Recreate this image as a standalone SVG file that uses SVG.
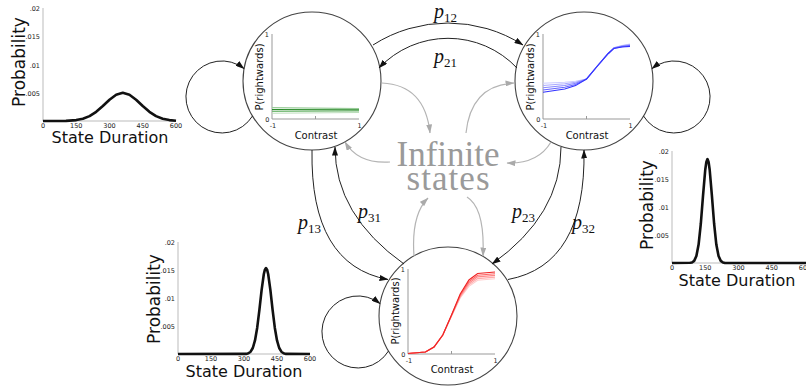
<svg xmlns="http://www.w3.org/2000/svg" width="806" height="389" viewBox="0 0 806 389">
<defs>
<marker id="ab" markerWidth="9" markerHeight="6" refX="8.5" refY="3" orient="auto" markerUnits="userSpaceOnUse"><path d="M0,0 L9,3 L0,6 z" fill="#111"/></marker>
<marker id="ag" markerWidth="9" markerHeight="6" refX="8.5" refY="3" orient="auto" markerUnits="userSpaceOnUse"><path d="M0,0 L9,3 L0,6 z" fill="#aaa"/></marker>
<style>
.edge{fill:none;stroke:#222;stroke-width:1}
.gedge{fill:none;stroke:#b4b4b4;stroke-width:1.2}
.node{fill:#fff;stroke:#444;stroke-width:1.1}
.ax{stroke:#999;stroke-width:1;fill:none}
.dax{stroke:#bbb;stroke-width:1;fill:none}
.tk{font-family:"DejaVu Sans",sans-serif;font-size:6.5px;fill:#222}
.lab{font-family:"DejaVu Sans",sans-serif;font-size:10px;fill:#111}
.big{font-family:"DejaVu Sans",sans-serif;fill:#111}
.pl{font-family:"Liberation Serif",serif;font-size:20px;fill:#111}
.pd{stroke:#111;stroke-width:2.6;fill:none;stroke-linejoin:round}
.cv{fill:none;stroke-width:1.1}
</style>
</defs>
<rect width="806" height="389" fill="#fff"/>

<!-- Node 1 -->
<g id="state1">
<circle class="node" cx="312" cy="81" r="69"/>
<line class="ax" x1="272" y1="34" x2="272" y2="119"/>
<line class="ax" x1="272" y1="119" x2="359" y2="119"/>
<line class="ax" x1="315.5" y1="119" x2="315.5" y2="116"/>
<polyline class="cv" stroke="#bdb" points="272,113.2 359,112.5"/>
<polyline class="cv" stroke="#9c9" points="272,107.6 359,108.6"/>
<polyline class="cv" stroke="#7b7" points="272,111.5 359,111"/>
<polyline class="cv" stroke="#2a8a2a" points="272,109.6 359,109.9"/>
<text class="tk" x="269" y="37" text-anchor="end">1</text>
<text class="tk" x="269.5" y="122" text-anchor="end">0</text>
<text class="tk" x="273" y="127.5" text-anchor="middle">-1</text>
<text class="tk" x="359.5" y="127.5" text-anchor="middle">1</text>
<text class="lab" transform="translate(262.5,77) rotate(-90)" text-anchor="middle">P(rightwards)</text>
<text class="lab" x="316" y="139" text-anchor="middle">Contrast</text>
</g>

<!-- Node 2 -->
<g id="state2">
<circle class="node" cx="584" cy="81" r="69"/>
<line class="ax" x1="543" y1="34" x2="543" y2="119"/>
<line class="ax" x1="543" y1="119" x2="630" y2="119"/>
<line class="ax" x1="586.5" y1="119" x2="586.5" y2="116"/>
<polyline class="cv" stroke="#ccf" points="543,83.3 564.75,82.3 575.6,81.2 586.5,79 597.4,66 608.25,53.5 614,47.8 622,45.5 630,44"/>
<polyline class="cv" stroke="#aaf" points="543,85.5 564.75,83.8 575.6,82.2 586.5,79 597.4,66 608.25,53.5 614,47.8 622,45.8 630,44.6"/>
<polyline class="cv" stroke="#88f" points="543,87.8 564.75,85.5 575.6,83.3 586.5,79 597.4,66 608.25,53.5 614,48 622,46.2 630,45.2"/>
<polyline class="cv" stroke="#66f" points="543,90 564.75,87.3 575.6,84.5 586.5,79 597.4,66 608.25,53.5 614,48.2 622,46.6 630,45.8"/>
<polyline class="cv" stroke="#33f" points="543,92.3 564.75,89 575.6,85.6 586.5,79 597.4,66 608.25,53.5 614,48.4 622,47 630,46.4"/>
<text class="tk" x="540" y="37" text-anchor="end">1</text>
<text class="tk" x="540.5" y="122" text-anchor="end">0</text>
<text class="tk" x="544" y="127.5" text-anchor="middle">-1</text>
<text class="tk" x="630.5" y="127.5" text-anchor="middle">1</text>
<text class="lab" transform="translate(533.5,77) rotate(-90)" text-anchor="middle">P(rightwards)</text>
<text class="lab" x="587" y="139" text-anchor="middle">Contrast</text>
</g>

<!-- Node 3 -->
<g id="state3">
<circle class="node" cx="448" cy="316" r="69"/>
<line class="ax" x1="408" y1="269" x2="408" y2="354"/>
<line class="ax" x1="408" y1="354" x2="495" y2="354"/>
<line class="ax" x1="451.5" y1="354" x2="451.5" y2="351"/>
<polyline class="cv" stroke="#fcc" points="408,353.5 425.4,352 434,347 442.8,335 451.5,316.2 460.2,298 468.9,286.4 477.6,280.3 495,278.8"/>
<polyline class="cv" stroke="#faa" points="408,353.5 425.4,352 434,347 442.8,335 451.5,315.9 460.2,297 468.9,284.8 477.6,278.6 495,277.1"/>
<polyline class="cv" stroke="#f88" points="408,353.5 425.4,352 434,347 442.8,335 451.5,315.6 460.2,296 468.9,283.2 477.6,276.9 495,275.4"/>
<polyline class="cv" stroke="#f66" points="408,353.5 425.4,352 434,347 442.8,335 451.5,315.3 460.2,295 468.9,281.6 477.6,275.2 495,273.7"/>
<polyline class="cv" stroke="#e22" points="408,353.5 425.4,352 434,347 442.8,335 451.5,315 460.2,294 468.9,280 477.6,273.5 495,272"/>
<text class="tk" x="405" y="272" text-anchor="end">1</text>
<text class="tk" x="405.5" y="357" text-anchor="end">0</text>
<text class="tk" x="409" y="362.5" text-anchor="middle">-1</text>
<text class="tk" x="495.5" y="362.5" text-anchor="middle">1</text>
<text class="lab" transform="translate(398.5,311) rotate(-90)" text-anchor="middle">P(rightwards)</text>
<text class="lab" x="452" y="373" text-anchor="middle">Contrast</text>
</g>

<!-- Center label -->
<g id="infinite" font-family="'Liberation Serif',serif" fill="#9a9a9a" font-size="35" text-anchor="middle">
<text x="448" y="166" textLength="103" lengthAdjust="spacing">Infinite</text>
<text x="448" y="190" textLength="83" lengthAdjust="spacing">states</text>
</g>

<!-- Connectors -->
<g id="connectors">
<path class="edge" d="M373,45 A139,139 0 0,1 523,45" marker-end="url(#ab)"/>
<path class="edge" d="M517,68 A95,95 0 0,0 379,68" marker-end="url(#ab)"/>
<path class="edge" d="M312,150 Q310,265 388,279.5" marker-end="url(#ab)"/>
<path class="edge" d="M404,264 Q335,215 335,147" marker-end="url(#ab)"/>
<path class="edge" d="M561,147 Q561,215 492,264" marker-end="url(#ab)"/>
<path class="edge" d="M508,279.5 Q586,265 584,150" marker-end="url(#ab)"/>
<path class="edge" d="M252.5,116 A36,36 0 1,1 244.1,68.6" marker-end="url(#ab)"/>
<path class="edge" d="M643.5,116 A36,36 0 1,0 651.9,68.6" marker-end="url(#ab)"/>
<path class="edge" d="M388.5,351 A36,36 0 1,1 380.1,303.6" marker-end="url(#ab)"/>
<path class="gedge" d="M382,83 Q425,85 430,133" marker-end="url(#ag)"/>
<path class="gedge" d="M390,162 Q358,164 345,142" marker-end="url(#ag)"/>
<path class="gedge" d="M466,133 Q471,85 514,83" marker-end="url(#ag)"/>
<path class="gedge" d="M551,142 Q538,164 507,163" marker-end="url(#ag)"/>
<path class="gedge" d="M414,256 Q411,215 428,198" marker-end="url(#ag)"/>
<path class="gedge" d="M467,197 Q485,208 483,256" marker-end="url(#ag)"/>
</g>

<!-- Edge labels -->
<g id="edge-labels" class="pl">
<text x="434" y="17.5"><tspan font-style="italic">p</tspan><tspan font-size="13" dy="4">12</tspan></text>
<text x="434" y="62.5"><tspan font-style="italic">p</tspan><tspan font-size="13" dy="4">21</tspan></text>
<text x="298" y="229"><tspan font-style="italic">p</tspan><tspan font-size="13" dy="4">13</tspan></text>
<text x="358" y="218"><tspan font-style="italic">p</tspan><tspan font-size="13" dy="4">31</tspan></text>
<text x="512" y="218"><tspan font-style="italic">p</tspan><tspan font-size="13" dy="4">23</tspan></text>
<text x="572" y="229"><tspan font-style="italic">p</tspan><tspan font-size="13" dy="4">32</tspan></text>
</g>

<!-- Duration plot state 1 -->
<g id="duration1">
<line class="dax" x1="43" y1="8" x2="43" y2="121"/>
<line class="dax" x1="43" y1="121" x2="176" y2="121"/>
<polyline class="pd" points="43,121 66,120.9 76.25,120.1 82.9,118.76 89.55,116.14 96.2,111.84 102.85,106.03 109.5,99.7 116.15,94.7 122.8,92.8 129.45,94.7 136.1,99.7 142.75,106.03 149.4,111.84 156.05,116.14 162.7,118.76 169.35,120.1 176,120.7"/>
<g class="tk" text-anchor="end">
<text x="40" y="11">.02</text><text x="40" y="39">.015</text><text x="40" y="67.5">.01</text><text x="40" y="95.75">.005</text>
</g>
<g class="tk" text-anchor="middle">
<text x="43" y="127.5">0</text><text x="76.25" y="127.5">150</text><text x="109.5" y="127.5">300</text><text x="142.75" y="127.5">450</text><text x="176" y="127.5">600</text>
</g>
<text class="big" font-size="17" transform="translate(25,62) rotate(-90)" text-anchor="middle">Probability</text>
<text class="big" font-size="16" x="110" y="143" text-anchor="middle">State Duration</text>
</g>

<!-- Duration plot state 2 -->
<g id="duration2">
<line class="dax" x1="672" y1="151" x2="672" y2="263"/>
<line class="dax" x1="672" y1="263" x2="806" y2="263"/>
<polyline class="pd" points="672,263 690,262.8 691.95,262.48 694.17,260.88 696.38,256.05 698.6,244.58 700.82,223.73 703.03,195.6 705.25,169.75 706.36,161.9 707.47,159.1 708.58,161.9 709.68,169.75 711.9,195.6 714.12,223.73 716.33,244.58 718.55,256.05 720.77,260.88 722.98,262.48 725,263 806,263"/>
<g class="tk" text-anchor="end">
<text x="669" y="154">.02</text><text x="669" y="182">.015</text><text x="669" y="210">.01</text><text x="669" y="238">.005</text>
</g>
<g class="tk" text-anchor="middle">
<text x="672" y="269.5">0</text><text x="705.25" y="269.5">150</text><text x="738.5" y="269.5">300</text><text x="771.75" y="269.5">450</text><text x="805" y="269.5">600</text>
</g>
<text class="big" font-size="17" transform="translate(653,205) rotate(-90)" text-anchor="middle">Probability</text>
<text class="big" font-size="16" x="737" y="286" text-anchor="middle">State Duration</text>
</g>

<!-- Duration plot state 3 -->
<g id="duration3">
<line class="dax" x1="178" y1="242" x2="178" y2="354"/>
<line class="dax" x1="178" y1="354" x2="310" y2="354"/>
<polyline class="pd" points="178,354 246,353.9 248.4,353.24 250.6,351.71 252.8,348.01 255,340.48 257.2,327.68 259.4,309.86 261.6,290.1 263.8,274.22 264.9,269.67 266,268.1 267.1,269.67 268.2,274.22 270.4,290.1 272.6,309.86 274.8,327.68 277,340.48 279.2,348.01 281.4,351.71 283.6,353.24 286,353.9 310,354"/>
<g class="tk" text-anchor="end">
<text x="175" y="245">.02</text><text x="175" y="273">.015</text><text x="175" y="301">.01</text><text x="175" y="329">.005</text>
</g>
<g class="tk" text-anchor="middle">
<text x="178" y="360.5">0</text><text x="211" y="360.5">150</text><text x="244" y="360.5">300</text><text x="277" y="360.5">450</text><text x="310" y="360.5">600</text>
</g>
<text class="big" font-size="17" transform="translate(159.5,299) rotate(-90)" text-anchor="middle">Probability</text>
<text class="big" font-size="16" x="244" y="377" text-anchor="middle">State Duration</text>
</g>
</svg>
